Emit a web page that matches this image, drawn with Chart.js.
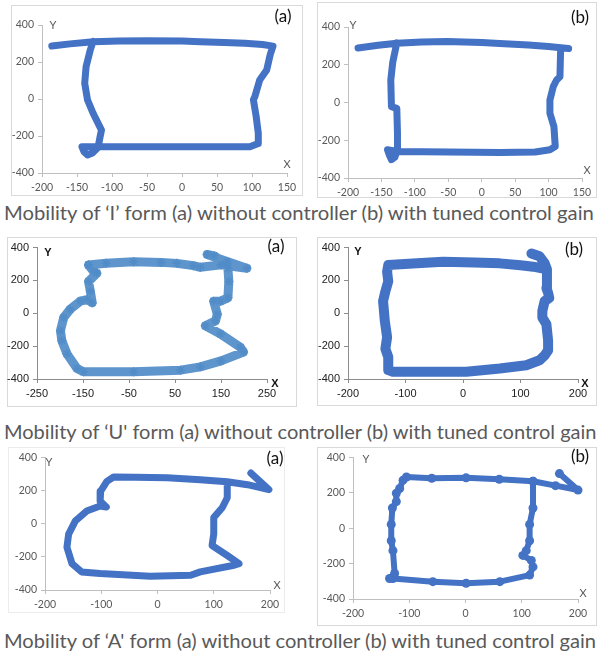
<!DOCTYPE html>
<html>
<head>
<meta charset="utf-8">
<script src="https://cdn.jsdelivr.net/npm/chart.js@4.4.1/dist/chart.umd.min.js"></script>
<style>
  html, body { margin: 0; padding: 0; background: #fff; }
  body { width: 597px; height: 657px; position: relative; overflow: hidden; }
  .panel { position: absolute; box-sizing: border-box; border: 1px solid #d9d9d9; }
  .panel canvas { position: absolute; left: -1px; top: -1px; }
  .cap { position: absolute; left: 4px; white-space: nowrap; font-family: Lato, "Open Sans", sans-serif;
         font-size: 19px; line-height: 20px; color: #595959; transform-origin: 0 50%; }
</style>
</head>
<body>
<div class="panel" id="p1"><canvas></canvas></div>
<div class="panel" id="p2"><canvas></canvas></div>
<div class="cap" data-w="590" style="top:203px">Mobility of ‘I’  form (a) without controller (b) with tuned control gain</div>
<div class="panel" id="p3"><canvas></canvas></div>
<div class="panel" id="p4"><canvas></canvas></div>
<div class="cap" data-w="592" style="top:422px">Mobility of ‘U' form (a) without controller (b) with tuned control gain</div>
<div class="panel" id="p5" style="border-color:#ececec"><canvas></canvas></div>
<div class="panel" id="p6"><canvas></canvas></div>
<div class="cap" data-w="592" style="top:631px">Mobility of ‘A' form (a) without controller (b) with tuned control gain</div>

<script>
// Robot trajectories (X, Y) for the three letter forms.

// 'I' form, without controller
const iFreeX = [-186, -160, -127, -90, -50, 0, 26, 60, 90, 115, 130,
                126, 121, 111, 104, 102, 106, 109, 109,
                97, 26, -60, -117, -143, -140, -135, -128, -120,
                -117, -115, -127, -135, -139, -137, -131, -127];
const iFreeY = [286, 298, 310, 313, 315, 313, 310, 305, 301, 295, 286,
                240, 157, 103, 12, -4, -96, -185, -240,
                -258, -258, -258, -258, -258, -285, -303, -292, -262,
                -204, -168, -77, -5, 85, 175, 265, 312];

// 'I' form, with tuned control gain
const iTunedX = [-185, -155, -127, -90, -52, 0, 27, 70, 100, 122, 130,
                 120, 118, 117, 112, 107, 102, 102, 108, 110,
                 102, 80, 27, -50, -126, -141, -138, -135, -130, -126,
                 -126, -127, -135, -136, -133, -127];
const iTunedY = [289, 303, 314, 320, 323, 318, 312, 305, 297, 289, 286,
                 289, 277, 136, 119, 84, 13, -57, -127, -233,
                 -250, -262, -265, -262, -259, -250, -280, -303, -290, -250,
                 -163, -31, -22, 119, 215, 316];

// 'U' form, without controller
const uFreeX = [-138, -100, -40, 20, 54, 90, 105, 150, 206, 163, 120, 135, 163, 165,
                167, 165, 149, 134, 142, 138, 116, 149, 192, 199,
                150, 105, 62, -40, -149, -163,
                -185, -196, -199, -192, -178, -156, -141, -130, -134, -138, -120, -127, -138];
const uFreeY = [294, 305, 314, 310, 304, 290, 280, 295, 274, 316, 358, 350, 300, 274,
                194, 94, 74, 74, -6, -46, -76, -126, -206, -236,
                -290, -326, -346, -356, -356, -336,
                -246, -166, -106, -26, 24, 74, 84, 64, 134, 194, 244, 254, 294];

// 'U' form, with tuned control gain
const uTunedX = [119, 133, 142, 146, 122, 100, 64, 20, -35, -80, -130,
                 -132, -130, -135, -139, -136, -132, -135, -130, -130,
                 -122, -52, -35, 6, 64, 110, 133, 142, 148, 148, 145, 138, 138, 142, 150, 148, 145, 146];
const uTunedY = [364, 347, 305, 268, 284, 292, 304, 310, 314, 305, 294,
                 254, 194, 134, 74, -46, -146, -216, -266, -346,
                 -356, -356, -356, -356, -336, -316, -286, -256, -226, -166, -66, -26, 14, 74, 94, 124, 154, 268];

// 'A' form, without controller
const aFreeX = [166, 198, 160, 124, 76, 17, -40, -78,
                -90, -101, -102, -91, -102, -126, -146, -158, -161, -152, -135,
                -102, -13, 59, 76, 136, 145,
                124, 97, 100, 100, 115, 124, 124];
const aFreeY = [305, 205, 235, 253, 265, 276, 279, 281,
                255, 196, 136, 100, 106, 76, 17, -63, -142, -241, -291,
                -301, -317, -311, -291, -251, -241,
                -192, -132, -63, 37, 96, 156, 253];

// 'A' form, with tuned control gain
const aTunedX = [167, 200, 160, 120, 60, 1, -60, -105,
                 -111, -117, -123, -123, -130, -132, -132, -129, -126, -135,
                 -129, -58, 1, 61, 114,
                 120, 117, 102, 108, 114, 114, 120, 120];
const aTunedY = [308, 215, 240, 265, 276, 284, 282, 289,
                 271, 224, 197, 150, 114, 21, -71, -127, -256, -284,
                 -284, -302, -311, -302, -265,
                 -219, -182, -154, -127, -71, 21, 114, 265];

const yTicks = [-400, -200, 0, 200, 400];

const toPoints = (xs, ys) => xs.map((x, i) => ({ x, y: ys[i] }));

// Draws the axis letters and the (a)/(b) tag of each panel.
const panelText = {
  id: 'panelText',
  afterDraw(chart, args, o) {
    const ctx = chart.ctx;
    ctx.save();
    ctx.textAlign = 'center';
    ctx.textBaseline = 'middle';
    ctx.fillStyle = o.axisColor;
    ctx.font = o.axisFont;
    ctx.fillText('Y', o.yPos[0], o.yPos[1]);
    ctx.fillText('X', o.xPos[0], o.xPos[1]);
    ctx.fillStyle = '#111';
    ctx.font = '17px Lato, "Open Sans", sans-serif';
    ctx.fillText(o.tag, o.tagPos[0], o.tagPos[1]);
    ctx.restore();
  }
};

const excelFont = { family: 'Lato, "Open Sans", sans-serif', size: 10.5 };
const arialFont = { family: '"Liberation Sans", Arial, sans-serif', size: 11 };

const panels = [
  { id: 'p1', xs: iFreeX, ys: iFreeY, box: [11, 5, 292, 191], yW: 31, xH: 23, pt: 20, pr: 16,
    xMin: -200, xMax: 150, xStep: 50, color: '#4472c4', width: 7, style: 'excel',
    tag: '(a)', tagPos: [272, 12], yPos: [42, 20], xPos: [276, 159] },
  { id: 'p2', xs: iTunedX, ys: iTunedY, box: [317, 2, 280, 196], yW: 31, xH: 20, pt: 25, pr: 15,
    xMin: -200, xMax: 150, xStep: 50, color: '#4472c4', width: 7, style: 'excel',
    tag: '(b)', tagPos: [263, 16], yPos: [36, 23], xPos: [270, 168] },
  { id: 'p3', xs: uFreeX, ys: uFreeY, box: [7, 237, 290, 170], yW: 30, xH: 28, pt: 9, pr: 30,
    xMin: -250, xMax: 250, xStep: 100, color: 'rgba(80,140,200,0.92)', width: 9, style: 'arial',
    stars: true, tag: '(a)', tagPos: [269, 10], yPos: [41, 16], xPos: [268, 147] },
  { id: 'p4', xs: uTunedX, ys: uTunedY, box: [317, 237, 280, 169], yW: 31, xH: 27, pt: 9, pr: 19,
    xMin: -200, xMax: 200, xStep: 100, color: '#4472c4', width: 10, style: 'arial',
    tag: '(b)', tagPos: [257, 13], yPos: [41, 15], xPos: [268, 147] },
  { id: 'p5', xs: aFreeX, ys: aFreeY, box: [8, 447, 277, 166], yW: 37, xH: 23, pt: 9, pr: 15,
    xMin: -200, xMax: 200, xStep: 100, color: '#4472c4', width: 7, style: 'excel',
    tag: '(a)', tagPos: [267, 12], yPos: [41, 15], xPos: [269, 138] },
  { id: 'p6', xs: aTunedX, ys: aTunedY, box: [317, 447, 280, 179], yW: 36, xH: 27, pt: 8, pr: 19,
    xMin: -200, xMax: 200, xStep: 100, color: '#4472c4', width: 6, style: 'excel',
    dots: true, tag: '(b)', tagPos: [263, 10], yPos: [49, 12], xPos: [266, 146] }
];

panels.forEach(p => {
  const div = document.getElementById(p.id);
  const [left, top, w, h] = p.box;
  Object.assign(div.style, { left: left + 'px', top: top + 'px', width: w + 'px', height: h + 'px' });
  const canvas = div.querySelector('canvas');
  canvas.width = w; canvas.height = h;
  canvas.style.width = w + 'px'; canvas.style.height = h + 'px';

  const arial = p.style === 'arial';
  const tickFont = arial ? arialFont : excelFont;
  const tickColor = arial ? '#222' : '#595959';
  const axisLine = arial ? '#8c8c8c' : '#bfbfbf';

  const axisCommon = {
    grid: { display: true, drawOnChartArea: false, drawTicks: true, tickLength: 4, color: axisLine },
    border: { display: true, color: axisLine, width: 1 },
    ticks: { font: tickFont, color: tickColor, padding: 4 }
  };

  new Chart(canvas, {
    type: 'scatter',
    data: {
      datasets: [{
        data: toPoints(p.xs, p.ys),
        showLine: true,
        borderColor: p.color,
        backgroundColor: p.color,
        borderWidth: p.width,
        borderCapStyle: 'round',
        borderJoinStyle: 'round',
        tension: 0,
        pointStyle: p.stars ? 'star' : 'circle',
        pointRadius: p.stars ? 4.5 : (p.dots ? 4.5 : 0),
        pointBorderWidth: p.stars ? 1.5 : 0,
        pointBorderColor: p.color,
        pointBackgroundColor: p.color,
        clip: 8
      }]
    },
    options: {
      responsive: false,
      animation: false,
      devicePixelRatio: 1,
      events: [],
      layout: { padding: { top: p.pt, right: p.pr, left: 0, bottom: 0 } },
      plugins: {
        legend: { display: false },
        tooltip: { enabled: false },
        panelText: {
          tag: p.tag, tagPos: p.tagPos, yPos: p.yPos, xPos: p.xPos,
          axisColor: arial ? '#111' : '#595959',
          axisFont: arial ? 'bold 11px "Liberation Sans", Arial, sans-serif' : '11px Lato, "Open Sans", sans-serif'
        }
      },
      scales: {
        x: {
          type: 'linear', min: p.xMin, max: p.xMax,
          ...axisCommon,
          ticks: { ...axisCommon.ticks, stepSize: p.xStep, maxRotation: 0 },
          afterFit: s => { s.height = p.xH; }
        },
        y: {
          type: 'linear', min: yTicks[0], max: yTicks[yTicks.length - 1],
          ...axisCommon,
          afterBuildTicks: s => { s.ticks = yTicks.map(v => ({ value: v })); },
          afterFit: s => { s.width = p.yW; }
        }
      }
    },
    plugins: [panelText]
  });
});

// Stretch each caption line to its column width.
document.querySelectorAll('.cap').forEach(el => {
  const w = el.offsetWidth;
  el.style.transform = 'scaleX(' + (+el.dataset.w / w) + ')';
});
</script>
</body>
</html>
